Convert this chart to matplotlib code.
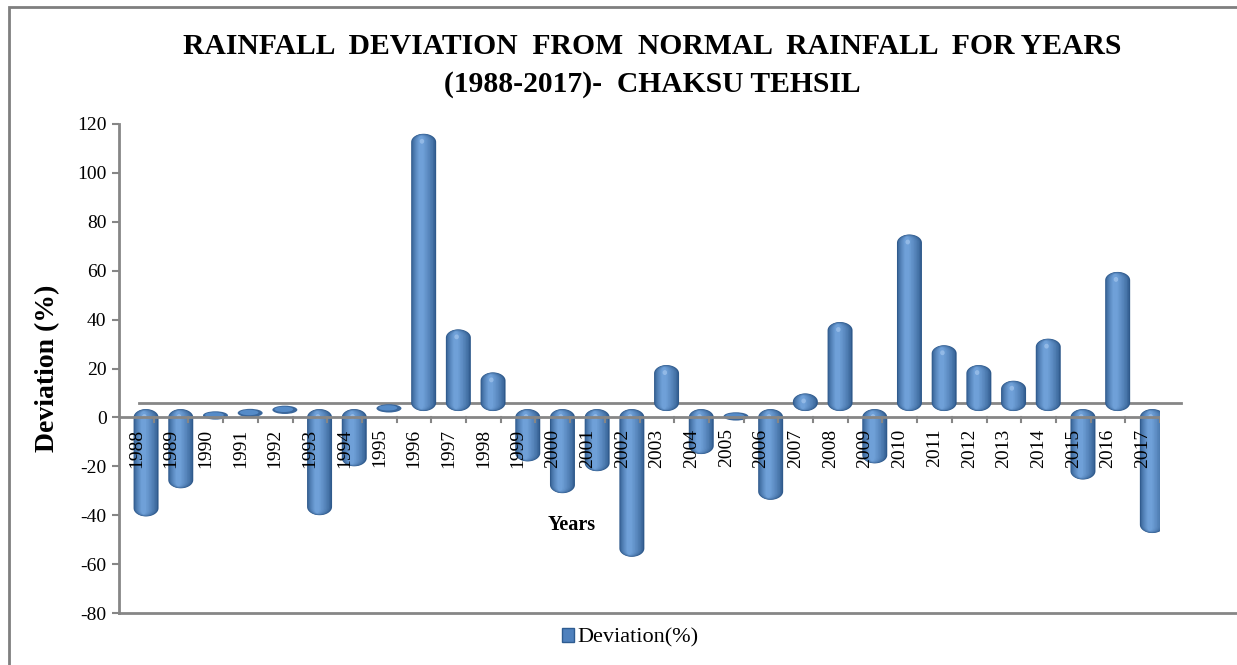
import numpy as np
import matplotlib
matplotlib.use('Agg')
import matplotlib.pyplot as plt
from matplotlib.patches import Polygon, Ellipse, Patch, Rectangle
from matplotlib.colors import to_rgb

plt.rcParams['font.family'] = ['Liberation Serif', 'DejaVu Serif']
plt.rcParams['axes.unicode_minus'] = False

years = [str(y) for y in range(1988, 2018)]
deviation = [-40.5, -29, 0.8, 1.8, 3.1, -40, -20, 3.7, 116, 36,
             18.4, -18, -31, -22, -57, 21.4, -15, 0.4, -33.7, 9.8,
             39, -18.8, 74.8, 29.5, 21.4, 15, 32.2, -25.4, 59.5, -47.3]
yticks = [-80, -60, -40, -20, 0, 20, 40, 60, 80, 100, 120]

title1 = 'RAINFALL  DEVIATION  FROM  NORMAL  RAINFALL  FOR YEARS'
title2 = '(1988-2017)-  CHAKSU TEHSIL'

GRAY = '#868686'
BASE = 6.0     # back edge of the 3d floor
CAP = 3.4      # half height of the rounded ends
SHIFT = 0.28   # bars sit a bit right of the labels
HW = 0.36

fig = plt.figure(figsize=(12.37, 6.65), dpi=100)
ax = fig.add_axes([119/1237, 52/665, 1041/1237, 489/665])
ax.set_xlim(-0.5, 29.5)
ax.set_ylim(-80, 120)


def capsule(xc, hw, lo, hi, b, **kw):
    b = min(b, (hi - lo) / 2)
    t = np.linspace(0, np.pi, 40)
    top = np.column_stack([xc + hw*np.cos(t), hi - b + b*np.sin(t)])
    bot = np.column_stack([xc - hw*np.cos(t), lo + b - b*np.sin(t)])
    return Polygon(np.vstack([top, bot]), closed=True, **kw)


dark = np.array(to_rgb('#2F5A8C'))
light = np.array(to_rgb('#6FA0D8'))
layers = 9

for i, v in enumerate(deviation):
    xc = i + SHIFT
    if 0 < v < BASE:
        # almost zero -> flat disc
        ax.add_patch(Ellipse((xc, v), 2*HW, 3.4, facecolor='#3A679C', edgecolor='none', zorder=2))
        ax.add_patch(Ellipse((xc - 0.03, v + 0.2), 1.5*HW, 2.2, facecolor='#558BC8', edgecolor='none', zorder=3))
        continue
    if v > 0:
        lo, hi = BASE - CAP, v
    else:
        lo, hi = v, CAP
    for k in range(layers):
        f = k / (layers - 1)
        w = HW * (1 - 0.8*f)
        inset = 0.9*f
        col = dark + (light - dark) * f**0.7
        ax.add_patch(capsule(xc - 0.07*f, w, lo + inset, hi - inset, CAP*(1 - 0.5*f),
                             facecolor=col, edgecolor='none', zorder=2 + 0.01*k))
    ax.add_patch(Ellipse((xc - 0.05, hi - CAP*0.9), 0.13, 2.0, facecolor='#9CC0EA',
                         edgecolor='none', alpha=0.8, zorder=3))

# axes lines
ax.plot([-0.5, 29.5], [0, 0], color=GRAY, lw=2, zorder=6, solid_capstyle='butt')
ax.plot([0.08, 30.1], [BASE, BASE], color=GRAY, lw=2, zorder=1, clip_on=False)
ax.plot([-0.5, 31.8], [-80, -80], color=GRAY, lw=2, zorder=1, clip_on=False)
for i in range(len(years)):
    ax.plot([i + 0.5, i + 0.5], [0, -1.8], color=GRAY, lw=1.5, zorder=6)
    ax.text(i, -4.5, years[i], rotation=90, ha='center', va='top', fontsize=14, zorder=7)

for s in ['top', 'right', 'bottom']:
    ax.spines[s].set_visible(False)
ax.spines['left'].set_color(GRAY)
ax.spines['left'].set_linewidth(2)
ax.set_xticks([])
ax.set_yticks(yticks)
ax.tick_params(axis='y', colors=GRAY, length=5, width=1.5, labelsize=14, labelcolor='black', pad=4)

ax.set_ylabel('Deviation (%)', fontsize=20, fontweight='bold', labelpad=12)
ax.text(12.55, -44, 'Years', fontsize=14.5, fontweight='bold', ha='center', va='center')

fig.text(652/1237, 1 - 47/665, title1, ha='center', va='center', fontsize=21.3, fontweight='bold')
fig.text(652/1237, 1 - 84/665, title2, ha='center', va='center', fontsize=21.3, fontweight='bold')

fig.legend(handles=[Patch(facecolor='#4F81BD', edgecolor='#2E5C91')], labels=['Deviation(%)'],
           loc='center', bbox_to_anchor=(630/1237, 1 - 638/665), frameon=False, fontsize=16,
           handlelength=0.55, handleheight=0.55, handletextpad=0.15)

# chart border
fig.add_artist(Rectangle((9/1237, -0.05), 1.1, 1 - 7/665 + 0.05, transform=fig.transFigure,
                         fill=False, edgecolor='#7F7F7F', lw=2))

fig.savefig('out.png', dpi=100, facecolor='white')
